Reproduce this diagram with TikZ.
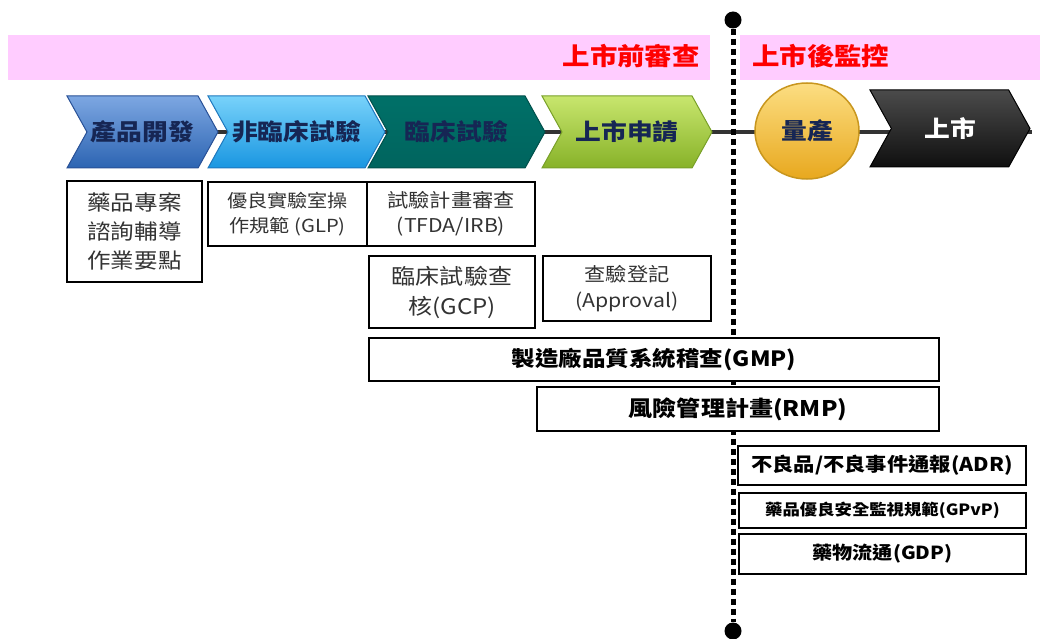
\documentclass[tikz,border=0pt]{standalone}
\usepackage{fontspec}
\newfontfamily\cjk[FakeStretch=1.12]{Noto Sans CJK TC}
\usetikzlibrary{shapes.symbols,shapes.geometric}

\definecolor{bandpink}{RGB}{255,204,255}
\definecolor{navytext}{RGB}{22,38,84}
\definecolor{boxtext}{RGB}{51,51,51}
\definecolor{axisgray}{RGB}{51,51,51}
\definecolor{prodtop}{RGB}{125,167,226}
\definecolor{prodbot}{RGB}{44,100,178}
\definecolor{prodline}{RGB}{40,80,150}
\definecolor{nontop}{RGB}{120,210,250}
\definecolor{nonbot}{RGB}{25,150,225}
\definecolor{nonline}{RGB}{30,120,190}
\definecolor{clintop}{RGB}{0,112,104}
\definecolor{clinbot}{RGB}{0,100,94}
\definecolor{clinline}{RGB}{0,80,75}
\definecolor{apptop}{RGB}{200,230,110}
\definecolor{appbot}{RGB}{135,178,40}
\definecolor{appline}{RGB}{120,160,40}
\definecolor{goldtop}{RGB}{252,222,130}
\definecolor{goldbot}{RGB}{232,168,30}
\definecolor{goldline}{RGB}{200,150,30}
\definecolor{darktop}{RGB}{75,75,75}
\definecolor{darkbot}{RGB}{15,15,15}

\tikzset{
  stage/.style n args={3}{shape=signal, signal from=west, signal to=east,
    signal pointer angle=122, inner sep=0pt, minimum height=72pt,
    top color=#1, bottom color=#2, draw=#3, line width=1pt,
    text=navytext, font=\cjk\bfseries\fontsize{23}{26}\selectfont},
  infobox/.style={draw=black, line width=2pt, fill=white, inner sep=0pt,
    align=center, text=boxtext, font=\cjk\fontsize{21}{29}\selectfont},
  phase/.style={text=red, inner sep=0pt, font=\cjk\bfseries\fontsize{24.5}{26}\selectfont},
  enddot/.style={circle, fill=black, inner sep=0pt, minimum size=17pt},
}

\begin{document}
\begin{tikzpicture}[x=1pt,y=-1pt]
  \useasboundingbox (0,0) rectangle (1043,639);

  % review / surveillance band
  \fill[bandpink] (8,35) rectangle (710,80);
  \fill[bandpink] (740,35) rectangle (1040,80);
  \node[phase, anchor=east] (pre) at (700,56) {上市前審查};
  \node[phase, anchor=west] (post) at (752,56) {上市後監控};

  % time axis
  \coordinate (axisL) at (92,132);
  \coordinate (axisR) at (1032,132);
  \draw[axisgray, line width=4pt] (axisL) -- (axisR);

  % launch line
  \node[enddot] (top) at (733,20) {};
  \node[enddot] (bot) at (733,631) {};
  \draw[line width=5pt, dash pattern=on 6pt off 4pt] (top) -- (bot);

  % stages
  \node[stage={prodtop}{prodbot}{prodline}, minimum width=151pt] (prod) at (142.5,132) {產品開發};
  \node[stage={nontop}{nonbot}{nonline}, minimum width=177pt] (nonclin) at (296.5,132) {非臨床試驗};
  \node[stage={clintop}{clinbot}{clinline}, minimum width=177pt] (clin) at (456.5,132) {臨床試驗};
  \node[stage={apptop}{appbot}{appline}, minimum width=170pt] (apply) at (627,132) {上市申請};
  \node[ellipse, minimum width=104pt, minimum height=96pt, inner sep=0pt,
        top color=goldtop, bottom color=goldbot, draw=goldline, line width=1.5pt,
        text=navytext, font=\cjk\bfseries\fontsize{23}{26}\selectfont] (mass) at (807,131) {量產};
  \node[stage={darktop}{darkbot}{black}, minimum width=160pt, minimum height=77pt,
        text=white] (market) at (950,128.5) {上市};

  % requirements
  \node[infobox, minimum width=135pt, minimum height=101pt] (consult) at (134.5,231.5)
    {藥品專案\\諮詢輔導\\作業要點};
  \node[infobox, minimum width=159pt, minimum height=64pt,
        font=\cjk\fontsize{18}{25}\selectfont] (glp) at (287.5,214)
    {優良實驗室操\\作規範 (GLP)};
  \node[infobox, minimum width=168pt, minimum height=64pt,
        font=\cjk\fontsize{19}{25}\selectfont] (tfda) at (451,214)
    {試驗計畫審查\\(TFDA/IRB)};
  \node[infobox, minimum width=166pt, minimum height=72pt,
        font=\cjk\fontsize{21.5}{30}\selectfont] (gcp) at (452,292)
    {臨床試驗查\\核(GCP)};
  \node[infobox, minimum width=168pt, minimum height=65pt,
        font=\cjk\fontsize{19}{26}\selectfont] (approval) at (627,288.5)
    {查驗登記\\(Approval)};
  \node[infobox, minimum width=570pt, minimum height=43pt, text=black,
        font=\cjk\bfseries\fontsize{21}{24}\selectfont] (gmp) at (654,359.5)
    {製造廠品質系統稽查(GMP)};
  \node[infobox, minimum width=402pt, minimum height=44pt, text=black,
        font=\cjk\bfseries\fontsize{21.5}{24}\selectfont] (rmp) at (738,409)
    {風險管理計畫(RMP)};
  \node[infobox, minimum width=288pt, minimum height=39pt, text=black,
        font=\cjk\bfseries\fontsize{19}{22}\selectfont] (adr) at (882,465.5)
    {不良品/不良事件通報(ADR)};
  \node[infobox, minimum width=287pt, minimum height=35pt, text=black,
        font=\cjk\bfseries\fontsize{15.5}{18}\selectfont] (gpvp) at (882.5,510.5)
    {藥品優良安全監視規範(GPvP)};
  \node[infobox, minimum width=287pt, minimum height=40pt, text=black,
        font=\cjk\bfseries\fontsize{18}{22}\selectfont] (gdp) at (882.5,554)
    {藥物流通(GDP)};
\end{tikzpicture}
\end{document}
